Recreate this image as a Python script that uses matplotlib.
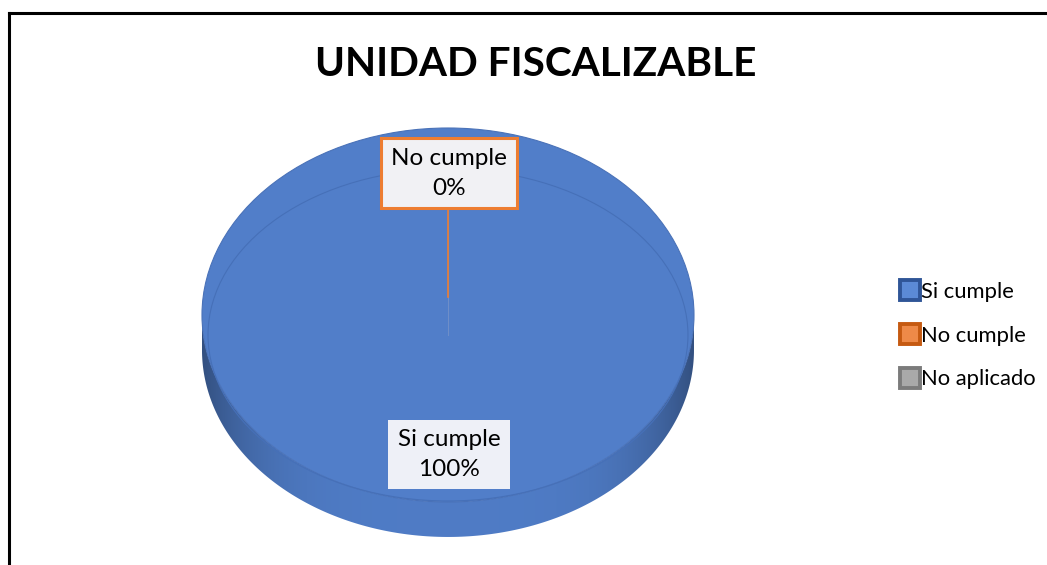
import numpy as np
import matplotlib.pyplot as plt
from matplotlib.patches import Ellipse, Polygon
from matplotlib.lines import Line2D

# Chart data
categories = ['Si cumple', 'No cumple', 'No aplicado']
values = [100, 0, 0]
title = 'UNIDAD FISCALIZABLE'

top_colors = ['#517ec9', '#ed7d31', '#a5a5a5']
edge_colors = ['#2f5597', '#c55a11', '#7b7b7b']
face_colors = ['#5b8ad6', '#ee8a48', '#a9a9a9']

plt.rcParams['font.family'] = ['Lato', 'DejaVu Sans']

fig = plt.figure(figsize=(10.47, 5.65), dpi=100)
ax = fig.add_axes([0, 0, 1, 1])

# pixel geometry of the pie (x scale 246 px/unit, y scale 187 px/unit)
depth = 0.187

# side of the 3D pie with a horizontal gradient
t = np.linspace(np.pi, 2 * np.pi, 200)
band = np.vstack([np.column_stack([np.cos(t), np.sin(t) - depth]),
                  np.column_stack([np.cos(t[::-1]), np.sin(t[::-1])])])
side = Polygon(band, closed=True, facecolor='none', edgecolor='none')
ax.add_patch(side)
gx = np.linspace(-1, 1, 300)
shade = 1 - 0.35 * np.abs(gx) ** 4
base = np.array([0.31, 0.485, 0.775])
img = np.clip(shade[None, :, None] * base[None, None, :], 0, 1)
im = ax.imshow(img, extent=(-1, 1, -1 - depth, 0), aspect='auto', zorder=1)
im.set_clip_path(side)

# top face from the data
wedges, _ = ax.pie(values, colors=top_colors, startangle=90, counterclock=False,
                   radius=1, center=(0, 0), wedgeprops=dict(linewidth=0))
for w in wedges:
    w.set_zorder(2)

ax.add_patch(Ellipse((0, 0), 2, 2, facecolor='none', edgecolor='#4a72b8', lw=0.8, zorder=3))
ax.add_patch(Ellipse((0, -0.107), 1.951, 1.775, facecolor='none', edgecolor='#4670b8', lw=0.8, zorder=3))

# boundary of the zero slice
theta = np.deg2rad(wedges[1].theta1)
ax.plot([0, 0.888 * np.cos(theta)], [-0.107, -0.107 + 0.888 * np.sin(theta)],
        color='#6f8fc8', lw=0.7, zorder=3)
ax.plot([0, 0.93 * np.cos(theta)], [0.096, 0.93 * np.sin(theta)],
        color='#ed7d31', lw=1.2, zorder=3)

ax.set_aspect('auto')
ax.set_xlim(-1.8211, 2.4350)
ax.set_ylim(-1.3369, 1.6845)
ax.axis('off')

# data labels
fs = 17.5
ax.text(0.004, 0.757, f'{categories[1]}\n{values[1]}%', ha='center', va='center',
        fontsize=fs, color='black', linespacing=1.5, zorder=5,
        bbox=dict(boxstyle='square,pad=0.4', fc='#f1f1f4', ec='#ed7d31', lw=2.2))
ax.text(0.004, -0.745, f'{categories[0]}\n{values[0]}%', ha='center', va='center',
        fontsize=fs, color='black', linespacing=1.5, zorder=5,
        bbox=dict(boxstyle='square,pad=0.38', fc='#eef0f7', ec='none'))

fig.text(0.512, 0.885, title, ha='center', va='center', fontsize=29.2, fontweight='bold')

# legend
handles = [Line2D([], [], marker='s', linestyle='none', markersize=14,
                  markerfacecolor=face_colors[i], markeredgecolor=edge_colors[i],
                  markeredgewidth=2.8) for i in range(len(categories))]
fig.legend(handles, categories, loc='center left', bbox_to_anchor=(0.851, 0.406),
           frameon=False, fontsize=15.8, handlelength=0.75, handletextpad=0.12,
           labelspacing=1.08, borderpad=0)

# chart border (top and left only)
fig.add_artist(Line2D([9 / 1047, 1], [1 - 13 / 565] * 2, transform=fig.transFigure,
                      color='black', lw=2.2))
fig.add_artist(Line2D([9 / 1047] * 2, [0, 1 - 13 / 565], transform=fig.transFigure,
                      color='black', lw=2.2))

fig.savefig('out.png', dpi=100)
